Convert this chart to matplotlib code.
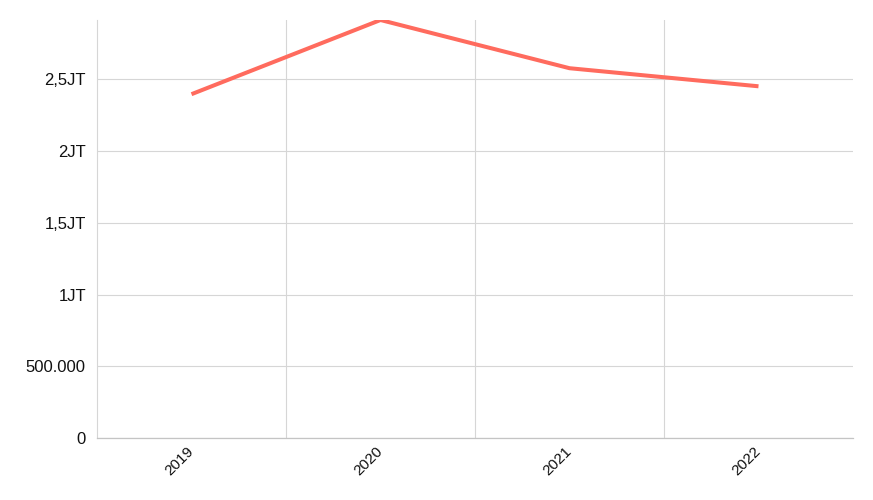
import matplotlib
matplotlib.use("Agg")
import matplotlib.pyplot as plt
from matplotlib.ticker import FuncFormatter, MultipleLocator, FixedLocator

# Data
years = ["2019", "2020", "2021", "2022"]
values = [2396000, 2913000, 2577000, 2451000]

LINE_COLOR = "#ff6b5e"
GRID_COLOR = "#d6d6d6"


def fmt_id(v, pos=None):
    # Indonesian style: "JT" for millions, dot as thousands separator
    if v >= 1_000_000:
        s = f"{v / 1_000_000:g}".replace(".", ",")
        return f"{s}JT"
    if v == 0:
        return "0"
    return f"{int(v):,}".replace(",", ".")


plt.rcParams["font.family"] = ["Liberation Sans", "DejaVu Sans"]

fig = plt.figure(figsize=(8.73, 5.0), dpi=100)
ax = fig.add_axes([97 / 873, 1 - 438 / 500, (853 - 97) / 873, (438 - 20) / 500])

x = list(range(len(years)))
ax.plot(x, values, color=LINE_COLOR, linewidth=2.9,
        solid_joinstyle="round", solid_capstyle="butt")

ax.set_xlim(-0.5, len(years) - 0.5)
ax.set_ylim(0, max(values))

ax.yaxis.set_major_locator(MultipleLocator(500000))
ax.yaxis.set_major_formatter(FuncFormatter(fmt_id))
ax.set_xticks(x)
ax.set_xticklabels(years)
ax.xaxis.set_minor_locator(FixedLocator([i + 0.5 for i in x[:-1]]))

ax.grid(axis="y", which="major", color=GRID_COLOR, linewidth=0.8)
ax.grid(axis="x", which="minor", color=GRID_COLOR, linewidth=0.8)
ax.set_axisbelow(True)

for side in ["top", "right"]:
    ax.spines[side].set_visible(False)
ax.spines["left"].set_color(GRID_COLOR)
ax.spines["left"].set_linewidth(0.8)
ax.spines["bottom"].set_color("#c4c4c4")
ax.spines["bottom"].set_linewidth(0.9)

ax.tick_params(axis="y", length=0, pad=8, labelsize=12, labelcolor="#111111")
ax.tick_params(axis="x", which="both", length=0, pad=8, labelsize=11, labelcolor="#111111")
for lbl in ax.get_xticklabels():
    lbl.set_rotation(45)
    lbl.set_ha("right")
    lbl.set_va("center")
    lbl.set_rotation_mode("anchor")

fig.savefig("out.png", dpi=100)
